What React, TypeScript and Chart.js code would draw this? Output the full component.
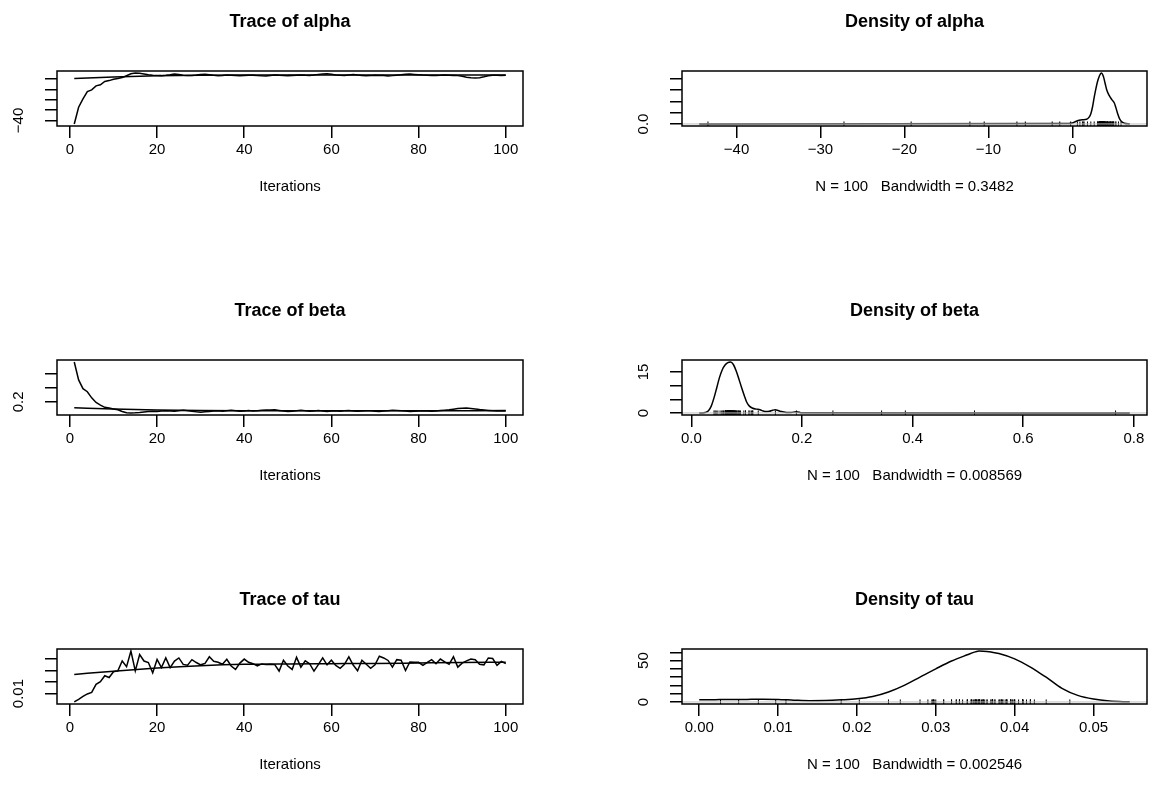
import React, { useEffect, useRef } from 'react';
import { Chart, registerables } from 'chart.js';
Chart.register(...registerables);

const FONT = "'Liberation Sans', Arial, Helvetica, sans-serif";

// ---------------- data ----------------
const alphaTrace = [
  -43.4, -27.2, -19.2, -12.2, -10.5, -6.6, -5.6, -2.4, -1.5, -0.2,
  0.6, 1.4, 3.2, 5.1, 5.8, 5.5, 4.9, 4.2, 3.6, 3.4,
  3.3, 3.6, 4.1, 4.8, 4.4, 3.7, 3.5, 3.4, 3.9, 4.5,
  4.7, 4.2, 3.6, 3.3, 3.5, 3.8, 3.6, 3.4, 3.2, 3.5,
  3.7, 3.6, 3.3, 3.1, 3.0, 3.4, 3.8, 3.6, 3.5, 3.3,
  3.4, 3.7, 4.0, 3.6, 3.5, 3.8, 4.5, 4.9, 5.2, 4.6,
  4.0, 3.7, 3.5, 3.9, 4.3, 3.8, 3.5, 3.2, 3.3, 3.6,
  3.5, 3.4, 3.0, 3.3, 3.7, 4.1, 4.6, 4.8, 4.5, 4.2,
  3.8, 3.6, 3.5, 3.4, 3.6, 3.9, 3.7, 3.5, 3.3, 2.6,
  1.8, 1.2, 0.9, 1.3, 2.2, 3.2, 3.6, 3.7, 3.5, 3.6,
];
const betaTrace = [
  0.767, 0.512, 0.387, 0.344, 0.256, 0.19, 0.152, 0.121, 0.111, 0.098,
  0.087, 0.062, 0.045, 0.041, 0.043, 0.048, 0.055, 0.061, 0.066, 0.063,
  0.068, 0.072, 0.070, 0.066, 0.073, 0.078, 0.071, 0.066, 0.058, 0.052,
  0.057, 0.063, 0.068, 0.071, 0.067, 0.074, 0.078, 0.072, 0.066, 0.070,
  0.075, 0.069, 0.071, 0.080, 0.084, 0.082, 0.085, 0.076, 0.068, 0.062,
  0.067, 0.072, 0.078, 0.071, 0.064, 0.069, 0.075, 0.070, 0.062, 0.068,
  0.073, 0.066, 0.071, 0.077, 0.070, 0.065, 0.069, 0.074, 0.072, 0.066,
  0.063, 0.068, 0.074, 0.079, 0.076, 0.072, 0.069, 0.061, 0.065, 0.070,
  0.073, 0.068, 0.064, 0.069, 0.075, 0.080, 0.086, 0.095, 0.104, 0.109,
  0.111, 0.106, 0.098, 0.089, 0.082, 0.076, 0.071, 0.068, 0.072, 0.070,
];
const tauTrace = [
  0.0027, 0.0050, 0.0075, 0.0097, 0.0110, 0.0180, 0.0203, 0.0255, 0.0240, 0.0290,
  0.0297, 0.0383, 0.0334, 0.0470, 0.0297, 0.0440, 0.0383, 0.0370, 0.0280, 0.0397,
  0.0326, 0.0411, 0.0326, 0.0383, 0.0410, 0.0354, 0.0346, 0.0395, 0.0370, 0.0350,
  0.0362, 0.0420, 0.0381, 0.0372, 0.0355, 0.0398, 0.0340, 0.0310, 0.0365, 0.0400,
  0.0372, 0.0360, 0.0340, 0.0358, 0.0352, 0.0356, 0.0352, 0.0296, 0.0390, 0.0340,
  0.0310, 0.0415, 0.0330, 0.0385, 0.0360, 0.0295, 0.0352, 0.0410, 0.0350, 0.0390,
  0.0345, 0.0320, 0.0355, 0.0420, 0.0348, 0.0298, 0.0390, 0.0355, 0.0320, 0.0350,
  0.0425, 0.0410, 0.0388, 0.0330, 0.0395, 0.0390, 0.0300, 0.0375, 0.0372, 0.0372,
  0.0345, 0.0372, 0.0395, 0.0360, 0.0400, 0.0375, 0.0355, 0.0420, 0.0330, 0.0365,
  0.0385, 0.0400, 0.0395, 0.0355, 0.0350, 0.0410, 0.0405, 0.0345, 0.0380, 0.0360,
];

// smooth (lowess) lines of the trace plots
const alphaSmoothX = [1, 10, 20, 30, 40, 50, 60, 70, 80, 90, 100];
const alphaSmoothY = [0.5, 2.0, 3.2, 3.7, 3.8, 3.8, 3.9, 3.9, 3.9, 3.8, 3.8];
const betaSmoothX = [1, 10, 20, 30, 40, 60, 80, 100];
const betaSmoothY = [0.115, 0.098, 0.085, 0.077, 0.073, 0.072, 0.073, 0.075];
const tauSmoothX = [1, 10, 20, 30, 40, 50, 60, 70, 80, 90, 100];
const tauSmoothY = [0.0266, 0.0295, 0.0322, 0.0342, 0.0354, 0.0358, 0.036, 0.0362, 0.0366, 0.037, 0.0373];

// density curves
const alphaDensX = [-44.44, -1, 0, 0.4, 0.8, 1.2, 1.7, 2.0, 2.2, 2.4, 2.6, 2.8, 3.0, 3.2, 3.45, 3.7, 3.9, 4.1, 4.4, 4.7, 5.0, 5.2, 5.4, 5.6, 5.85, 6.2, 6.84];
const alphaDensY = [0, 0.003, 0.008, 0.022, 0.032, 0.037, 0.041, 0.06, 0.09, 0.15, 0.235, 0.31, 0.375, 0.42, 0.45, 0.42, 0.36, 0.3, 0.25, 0.215, 0.185, 0.14, 0.09, 0.05, 0.022, 0.007, 0];
const betaDensX = [0.0143, 0.02, 0.025, 0.031, 0.036, 0.041, 0.046, 0.051, 0.056, 0.061, 0.066, 0.071, 0.076, 0.081, 0.086, 0.091, 0.096, 0.100, 0.105, 0.111, 0.118, 0.124, 0.130, 0.135, 0.141, 0.147, 0.152, 0.157, 0.163, 0.172, 0.180, 0.190, 0.200, 0.7927];
const betaDensY = [0, 0.02, 0.15, 0.8, 2.5, 5.5, 9.2, 13, 15.8, 17.5, 18.4, 18.6, 17.7, 15.4, 12.4, 9.2, 6.2, 4.0, 2.5, 1.7, 1.4, 1.2, 0.7, 0.5, 0.6, 1.0, 1.2, 0.9, 0.5, 0.2, 0.15, 0.45, 0.05, 0];
const tauDensX = [0, 0.002, 0.004, 0.006, 0.008, 0.010, 0.012, 0.014, 0.016, 0.018, 0.020, 0.022, 0.024, 0.026, 0.028, 0.030, 0.032, 0.034, 0.035, 0.0355, 0.036, 0.037, 0.038, 0.040, 0.042, 0.043, 0.044, 0.046, 0.048, 0.050, 0.052, 0.054, 0.0546];
const tauDensY = [2.6, 2.8, 3.0, 3.1, 3.2, 3.0, 2.2, 1.6, 1.8, 2.6, 3.8, 6.5, 12, 20, 30, 40, 49.5, 57, 60.5, 61.5, 61.3, 60.2, 58.5, 52, 42, 36, 30, 16.5, 8, 3.5, 1.2, 0.3, 0.2];

// ticks and labels
const traceXTicks = [0, 20, 40, 60, 80, 100];
const traceXLabels = ['0', '20', '40', '60', '80', '100'];
const alphaTraceYTicks = [-40, -30, -20, -10, 0];
const alphaTraceYLabels = ['\u221240', '', '', '', ''];
const betaTraceYTicks = [0.2, 0.4, 0.6];
const betaTraceYLabels = ['0.2', '', ''];
const tauTraceYTicks = [0.01, 0.02, 0.03, 0.04];
const tauTraceYLabels = ['0.01', '', '', ''];

const alphaDensXTicks = [-40, -30, -20, -10, 0];
const alphaDensXLabels = ['\u221240', '\u221230', '\u221220', '\u221210', '0'];
const alphaDensYTicks = [0, 0.1, 0.2, 0.3, 0.4];
const alphaDensYLabels = ['0.0', '', '', '', ''];
const betaDensXTicks = [0, 0.2, 0.4, 0.6, 0.8];
const betaDensXLabels = ['0.0', '0.2', '0.4', '0.6', '0.8'];
const betaDensYTicks = [0, 5, 10, 15];
const betaDensYLabels = ['0', '', '', '15'];
const tauDensXTicks = [0, 0.01, 0.02, 0.03, 0.04, 0.05];
const tauDensXLabels = ['0.00', '0.01', '0.02', '0.03', '0.04', '0.05'];
const tauDensYTicks = [0, 10, 20, 30, 40, 50, 60];
const tauDensYLabels = ['0', '', '', '', '', '50', ''];

const titles = ['Trace of alpha', 'Density of alpha', 'Trace of beta', 'Density of beta', 'Trace of tau', 'Density of tau'];
const densXTitles = ['N = 100   Bandwidth = 0.3482', 'N = 100   Bandwidth = 0.008569', 'N = 100   Bandwidth = 0.002546'];
const traceXTitle = 'Iterations';

// ---------------- layout ----------------
const CANVAS_W = 576;
const CANVAS_H = 289;
const AREA_TOP = 71;
const AREA_BOTTOM = 126;
const Y_AXIS_W = 40;
const X_AXIS_H = 80;
const COL_AREA = [
  [57, 523],
  [106, 573],
];
const ROW_TOP = [0, 289, 578];

const pts = (xs: number[], ys: number[]) => xs.map((x, i) => ({ x, y: ys[i] }));
const expand = (lo: number, hi: number) => {
  const d = (hi - lo) * 0.04;
  return [lo - d, hi + d];
};

const rPlot = {
  id: 'rplot',
  afterDatasetsDraw(chart: any, _a: any, opts: any) {
    if (!opts || !opts.zeroLine) return;
    const { ctx, chartArea: a } = chart;
    const y = chart.scales.y.getPixelForValue(0);
    ctx.save();
    ctx.strokeStyle = '#bebebe';
    ctx.lineWidth = 1;
    ctx.beginPath();
    ctx.moveTo(a.left, y);
    ctx.lineTo(a.right, y);
    ctx.stroke();
    ctx.restore();
  },
  afterDraw(chart: any, _a: any, opts: any) {
    const { ctx, chartArea: a } = chart;
    ctx.save();
    ctx.strokeStyle = '#000';
    ctx.lineWidth = 1.5;
    ctx.strokeRect(a.left, a.top, a.right - a.left, a.bottom - a.top);
    const ys = chart.scales.y;
    ctx.fillStyle = '#000';
    ctx.font = `15px ${FONT}`;
    ctx.textAlign = 'center';
    ctx.textBaseline = 'middle';
    (opts.yTicks || []).forEach((v: number, i: number) => {
      const t = opts.yLabels[i];
      if (!t) return;
      const py = ys.getPixelForValue(v);
      ctx.save();
      ctx.translate(a.left - 38, py);
      ctx.rotate(-Math.PI / 2);
      ctx.fillText(t, 0, 0);
      ctx.restore();
    });
    ctx.restore();
  },
};

type PanelDef = {
  row: number;
  col: number;
  title: string;
  xTitle: string;
  datasets: any[];
  xRange: number[];
  yRange: number[];
  xTicks: number[];
  xLabels: string[];
  yTicks: number[];
  yLabels: string[];
  zeroLine: boolean;
};

function tracePanel(row: number, title: string, trace: number[], sx: number[], sy: number[], yTicks: number[], yLabels: string[]): PanelDef {
  const data = trace.map((v, i) => ({ x: i + 1, y: v }));
  return {
    row, col: 0, title, xTitle: traceXTitle,
    datasets: [
      { data, showLine: true, pointRadius: 0, borderColor: '#000', borderWidth: 1.5, tension: 0 },
      { data: pts(sx, sy), showLine: true, pointRadius: 0, borderColor: '#000', borderWidth: 1.5, cubicInterpolationMode: 'monotone' },
    ],
    xRange: expand(1, trace.length),
    yRange: expand(Math.min(...trace), Math.max(...trace)),
    xTicks: traceXTicks, xLabels: traceXLabels, yTicks, yLabels, zeroLine: false,
  };
}

function densPanel(row: number, title: string, xTitle: string, dx: number[], dy: number[], obs: number[], xTicks: number[], xLabels: string[], yTicks: number[], yLabels: string[]): PanelDef {
  return {
    row, col: 1, title, xTitle,
    datasets: [
      { data: pts(dx, dy), showLine: true, pointRadius: 0, borderColor: '#000', borderWidth: 1.5, cubicInterpolationMode: 'monotone' },
      { data: obs.map((v) => ({ x: v, y: 0 })), showLine: false, pointStyle: 'line', rotation: 90, pointRadius: 2.5, borderColor: '#000', borderWidth: 1 },
    ],
    xRange: expand(Math.min(...dx), Math.max(...dx)),
    yRange: expand(0, Math.max(...dy)),
    xTicks, xLabels, yTicks, yLabels, zeroLine: true,
  };
}

const panels: PanelDef[] = [
  tracePanel(0, titles[0], alphaTrace, alphaSmoothX, alphaSmoothY, alphaTraceYTicks, alphaTraceYLabels),
  densPanel(0, titles[1], densXTitles[0], alphaDensX, alphaDensY, alphaTrace, alphaDensXTicks, alphaDensXLabels, alphaDensYTicks, alphaDensYLabels),
  tracePanel(1, titles[2], betaTrace, betaSmoothX, betaSmoothY, betaTraceYTicks, betaTraceYLabels),
  densPanel(1, titles[3], densXTitles[1], betaDensX, betaDensY, betaTrace, betaDensXTicks, betaDensXLabels, betaDensYTicks, betaDensYLabels),
  tracePanel(2, titles[4], tauTrace, tauSmoothX, tauSmoothY, tauTraceYTicks, tauTraceYLabels),
  densPanel(2, titles[5], densXTitles[2], tauDensX, tauDensY, tauTrace, tauDensXTicks, tauDensXLabels, tauDensYTicks, tauDensYLabels),
];

function buildConfig(p: PanelDef): any {
  const [aLeft, aRight] = COL_AREA[p.col];
  const grid = { display: true, drawOnChartArea: false, drawTicks: true, tickLength: 12, color: '#000', lineWidth: 1.5 };
  const font = { family: FONT, size: 15 };
  return {
    type: 'scatter',
    data: { datasets: p.datasets },
    options: {
      animation: false,
      responsive: false,
      maintainAspectRatio: false,
      events: [],
      layout: {
        padding: { left: aLeft - Y_AXIS_W, right: CANVAS_W - aRight, top: 0, bottom: CANVAS_H - AREA_BOTTOM - X_AXIS_H },
      },
      plugins: {
        legend: { display: false },
        tooltip: { enabled: false },
        title: {
          display: true, text: p.title, fullSize: false, color: '#000',
          font: { family: FONT, size: 18, weight: 'bold' },
          padding: { top: 11.2, bottom: AREA_TOP - 11.2 - 21.6 },
        },
        rplot: { zeroLine: p.zeroLine, yTicks: p.yTicks, yLabels: p.yLabels },
      },
      scales: {
        x: {
          type: 'linear', position: 'bottom', min: p.xRange[0], max: p.xRange[1],
          afterBuildTicks: (s: any) => { s.ticks = p.xTicks.map((v) => ({ value: v })); },
          afterFit: (s: any) => { s.height = X_AXIS_H; },
          ticks: {
            autoSkip: false, maxRotation: 0, minRotation: 0, padding: 3, color: '#000', font,
            callback: (_v: any, i: number) => p.xLabels[i],
          },
          grid, border: { display: false },
          title: { display: true, text: p.xTitle, color: '#000', font, padding: { top: 0, bottom: 10 } },
        },
        y: {
          type: 'linear', position: 'left', min: p.yRange[0], max: p.yRange[1],
          afterBuildTicks: (s: any) => { s.ticks = p.yTicks.map((v) => ({ value: v })); },
          afterFit: (s: any) => { s.width = Y_AXIS_W; },
          ticks: { autoSkip: false, callback: () => '', font },
          grid, border: { display: false },
        },
      },
    },
    plugins: [rPlot],
  };
}

function PanelChart({ p }: { p: PanelDef }) {
  const ref = useRef<HTMLCanvasElement | null>(null);
  useEffect(() => {
    if (!ref.current) return;
    const chart = new Chart(ref.current, buildConfig(p));
    return () => chart.destroy();
  }, [p]);
  return (
    <canvas
      ref={ref}
      width={CANVAS_W}
      height={CANVAS_H}
      style={{ position: 'absolute', left: p.col * CANVAS_W, top: ROW_TOP[p.row], width: CANVAS_W, height: CANVAS_H }}
    />
  );
}

export default function App() {
  return (
    <div style={{ position: 'absolute', left: 0, top: 0, width: 1152, height: 803, overflow: 'hidden', background: '#fff' }}>
      {panels.map((p, i) => <PanelChart key={i} p={p} />)}
    </div>
  );
}
